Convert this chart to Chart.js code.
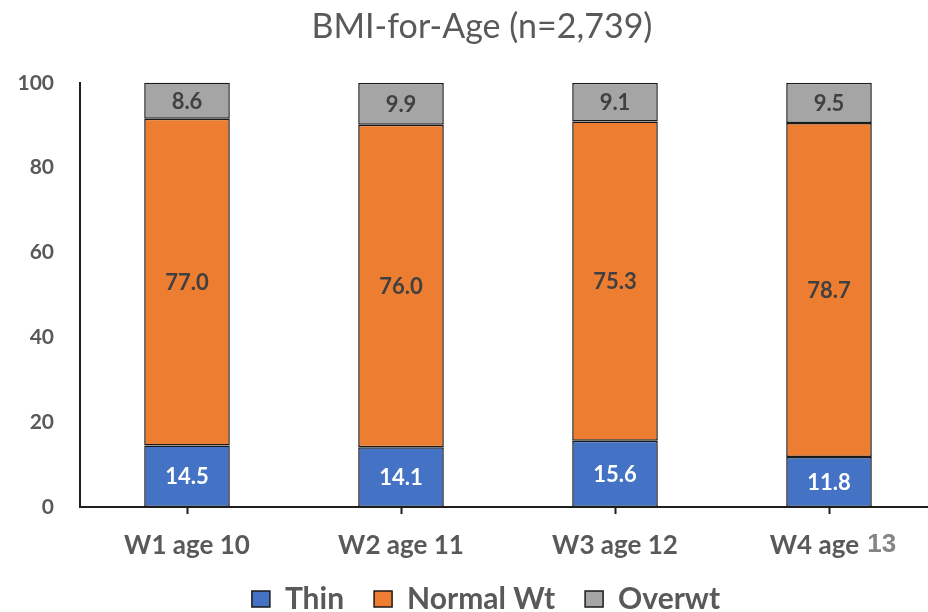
<!DOCTYPE html>
<html>
<head>
<meta charset="utf-8">
<script src="https://cdn.jsdelivr.net/npm/chart.js@4"></script>
<style>
  html, body { margin: 0; padding: 0; background: #ffffff; overflow: hidden; }
  #wrap { width: 928px; height: 612px; overflow: hidden; }
</style>
</head>
<body>
<div id="wrap"><canvas id="chart" width="936" height="612"></canvas></div>
<script>
// BMI-for-Age distribution by wave (percent of sample)
const categories = ['W1 age 10', 'W2 age 11', 'W3 age 12', 'W4 age 13'];
const thin = [14.5, 14.1, 15.6, 11.8];
const normalWt = [77.0, 76.0, 75.3, 78.7];
const overwt = [8.6, 9.9, 9.1, 9.5];
const yTickValues = [0, 20, 40, 60, 80, 100];
// Category labels whose age number is set in a separate face
const altAgeFontLabels = ['W4 age 13'];

const TEXT_GREY = '#595959';
const AXIS_LINE = '#1f1f1f';

// Value labels centred in each stacked segment
const segmentLabels = {
  id: 'segmentLabels',
  afterDatasetsDraw(chart) {
    const ctx = chart.ctx;
    ctx.save();
    ctx.font = 'bold 22px Lato';
    ctx.textAlign = 'center';
    ctx.textBaseline = 'middle';
    chart.data.datasets.forEach((ds, di) => {
      const meta = chart.getDatasetMeta(di);
      meta.data.forEach((el, i) => {
        const v = ds.data[i];
        const top = Math.max(el.y, chart.chartArea.top);
        const cy = (top + el.base) / 2;
        ctx.fillStyle = ds.labelColor;
        ctx.fillText(v.toFixed(1), el.x, cy + 1);
      });
    });
    ctx.restore();
  }
};

// Category labels under the x axis
const categoryLabels = {
  id: 'categoryLabels',
  afterDraw(chart) {
    const ctx = chart.ctx;
    const xs = chart.scales.x;
    const y = chart.chartArea.bottom + 39;
    ctx.save();
    ctx.textBaseline = 'middle';
    categories.forEach((label, i) => {
      const x = xs.getPixelForValue(i);
      if (altAgeFontLabels.includes(label)) {
        const cut = label.lastIndexOf(' ');
        const head = label.slice(0, cut + 1);
        const tail = label.slice(cut + 1);
        ctx.font = 'bold 26px Lato';
        const wHead = ctx.measureText(head).width;
        ctx.font = 'bold 26px "Liberation Sans"';
        const wTail = ctx.measureText(tail).width;
        const x0 = x - (wHead + wTail) / 2 + 3;
        ctx.textAlign = 'left';
        ctx.font = 'bold 26px Lato';
        ctx.fillStyle = TEXT_GREY;
        ctx.fillText(head, x0, y);
        ctx.font = 'bold 26px "Liberation Sans"';
        ctx.fillStyle = '#858585';
        ctx.fillText(tail, x0 + wHead + 2, y - 1);
      } else {
        ctx.font = 'bold 26px Lato';
        ctx.textAlign = 'center';
        ctx.fillStyle = TEXT_GREY;
        ctx.fillText(label, x, y);
      }
    });
    ctx.restore();
  }
};

// Centre the title and legend over the visible plot rather than the whole canvas
const centreBlocks = {
  id: 'centreBlocks',
  afterLayout(chart) {
    const move = (box, cx) => {
      if (!box) return;
      const d = cx - (box.left + box.right) / 2;
      box.left += d;
      box.right += d;
    };
    move(chart.titleBlock, 482);
    move(chart.legend, 486);
  }
};

const barStyle = {
  borderColor: '#1a1a1a',
  borderWidth: 1.5,
  borderSkipped: false,
  barPercentage: 0.4,
  categoryPercentage: 1.0
};

new Chart(document.getElementById('chart'), {
  type: 'bar',
  data: {
    labels: categories,
    datasets: [
      Object.assign({ label: 'Thin', data: thin, backgroundColor: '#4472C4', labelColor: '#ffffff' }, barStyle),
      Object.assign({ label: 'Normal Wt', data: normalWt, backgroundColor: '#ED7D31', labelColor: '#404040' }, barStyle),
      Object.assign({ label: 'Overwt', data: overwt, backgroundColor: '#A5A5A5', labelColor: '#404040' }, barStyle)
    ]
  },
  options: {
    responsive: false,
    animation: false,
    layout: { padding: { left: 0, right: 0, top: 0, bottom: -12 } },
    plugins: {
      title: {
        display: true,
        text: 'BMI-for-Age (n=2,739)',
        color: TEXT_GREY,
        font: { family: 'Lato', size: 34, weight: 'normal' },
        padding: { top: 7, bottom: 35 }
      },
      legend: {
        position: 'bottom',
        labels: {
          color: TEXT_GREY,
          font: { family: 'Lato', size: 30, weight: 'bold' },
          boxWidth: 18,
          boxHeight: 16,
          padding: 30,
          generateLabels(chart) {
            return chart.data.datasets.map((ds, i) => ({
              text: ds.label,
              fillStyle: ds.backgroundColor,
              strokeStyle: '#1a1a1a',
              lineWidth: 1.5,
              fontColor: TEXT_GREY,
              datasetIndex: i,
              hidden: false
            }));
          }
        }
      },
      tooltip: { enabled: false }
    },
    scales: {
      x: {
        stacked: true,
        offset: true,
        grid: {
          display: true,
          drawOnChartArea: false,
          drawTicks: true,
          offset: false,
          tickLength: 7,
          tickWidth: 2,
          color: AXIS_LINE
        },
        border: { display: true, color: AXIS_LINE, width: 2 },
        ticks: { display: false },
        afterFit(scale) { scale.height = 47; }
      },
      y: {
        stacked: true,
        min: 0,
        max: 100,
        afterBuildTicks(scale) { scale.ticks = yTickValues.map(v => ({ value: v })); },
        grid: { display: false },
        border: { display: true, color: AXIS_LINE, width: 2 },
        ticks: {
          color: TEXT_GREY,
          font: { family: 'Lato', size: 21, weight: 'bold' },
          padding: 18
        },
        afterFit(scale) { scale.width = 80; }
      }
    }
  },
  plugins: [segmentLabels, categoryLabels, centreBlocks]
});
</script>
</body>
</html>
